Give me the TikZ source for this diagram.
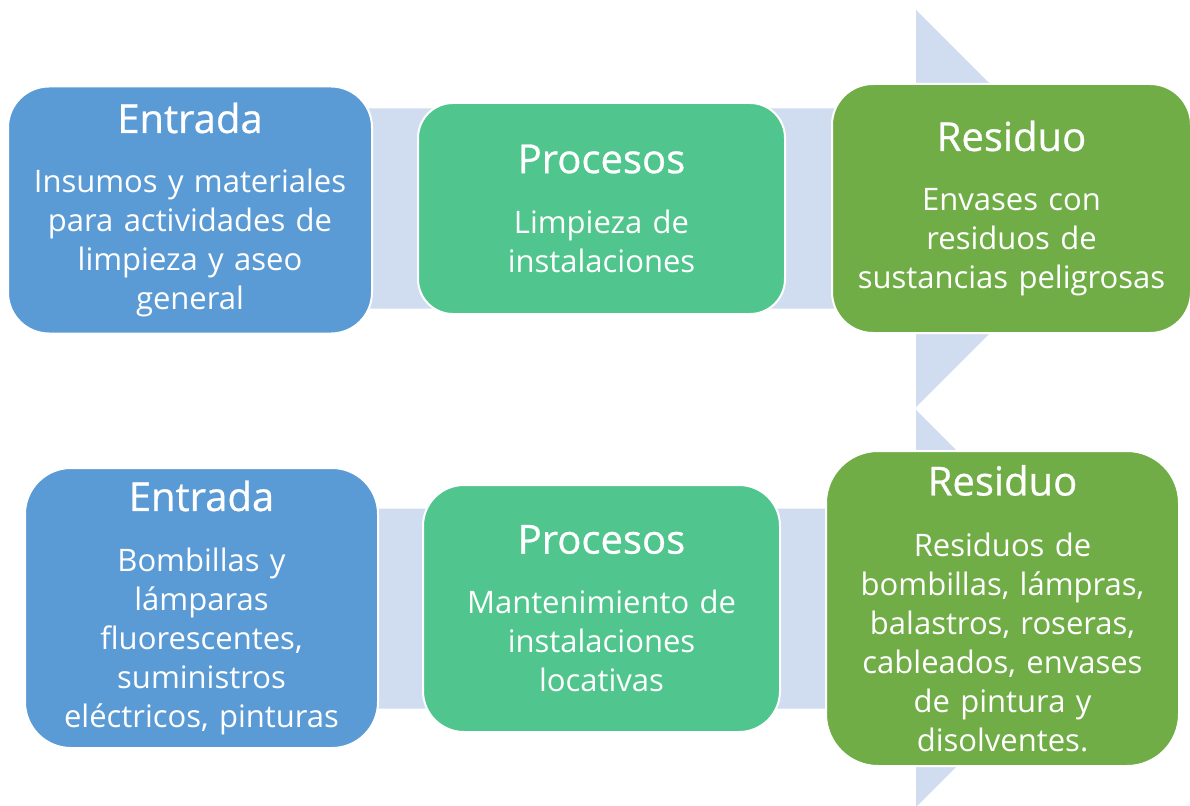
\documentclass[tikz,border=0pt]{standalone}
\usepackage{fontspec}
\setmainfont{Open Sans}
\newfontfamily\fuentetitulo{Open Sans}[FakeBold=0.7]
\usepackage{tikz}

\definecolor{azul}{HTML}{5B9BD5}
\definecolor{verde}{HTML}{50C58D}
\definecolor{olivo}{HTML}{70AD47}
\definecolor{banda}{HTML}{D0DCEF}
\newcommand{\titulo}[1]{{\fuentetitulo\fontsize{40}{39}\selectfont #1}}
\newcommand{\cuerpo}{\fontsize{31}{39}\selectfont}

\begin{document}
\begin{tikzpicture}[x=1pt,y=-1pt,
  caja/.style={draw=white, line width=2pt, text=white, align=center, inner sep=0pt, font=\cuerpo}]
\useasboundingbox (0,0) rectangle (1190,805);
% flechas de fondo
\foreach \y in {208.5,608.5}
    \fill[banda] (40,\y-100) -- (916,\y-100) -- (916,\y-198.5) -- (1114.5,\y)
        -- (916,\y+198.5) -- (916,\y+100) -- (40,\y+100) -- cycle;
% fila de arriba
\node[caja, fill=azul, rounded corners=41pt, minimum width=364pt, minimum height=247pt, text width=350pt]
    (entrada1) at (190,210) {\titulo{Entrada}\\[21pt]Insumos y materiales\\para actividades de\\limpieza y aseo\\general};
\node[caja, fill=verde, rounded corners=35pt, minimum width=367pt, minimum height=211pt, text width=353pt]
    (procesos1) at (601.5,208.5) {\titulo{Procesos}\\[21pt]Limpieza de\\instalaciones};
\node[caja, fill=olivo, rounded corners=41pt, minimum width=359pt, minimum height=249pt, text width=349pt]
    (residuo1) at (1011.5,208.5) {\titulo{Residuo}\\[21pt]Envases con\\residuos de\\sustancias peligrosas};
% fila de abajo
\node[caja, fill=azul, rounded corners=46pt, minimum width=353pt, minimum height=280pt, text width=343pt]
    (entrada2) at (201.5,608) {\titulo{Entrada}\\[22pt]Bombillas y\\lámparas\\fluorescentes,\\suministros\\eléctricos, pinturas};
\node[caja, fill=verde, rounded corners=41pt, minimum width=357pt, minimum height=247pt, text width=343pt]
    (procesos2) at (601.5,608.5) {\titulo{Procesos}\\[21pt]Mantenimiento de\\instalaciones\\locativas};
\node[caja, fill=olivo, rounded corners=52pt, minimum width=353pt, minimum height=315pt, text width=343pt]
    (residuo2) at (1002.5,608.5) {\titulo{Residuo}\\[22pt]Residuos de\\bombillas, lámpras,\\balastros, roseras,\\cableados, envases\\de pintura y\\disolventes.};
\end{tikzpicture}
\end{document}
